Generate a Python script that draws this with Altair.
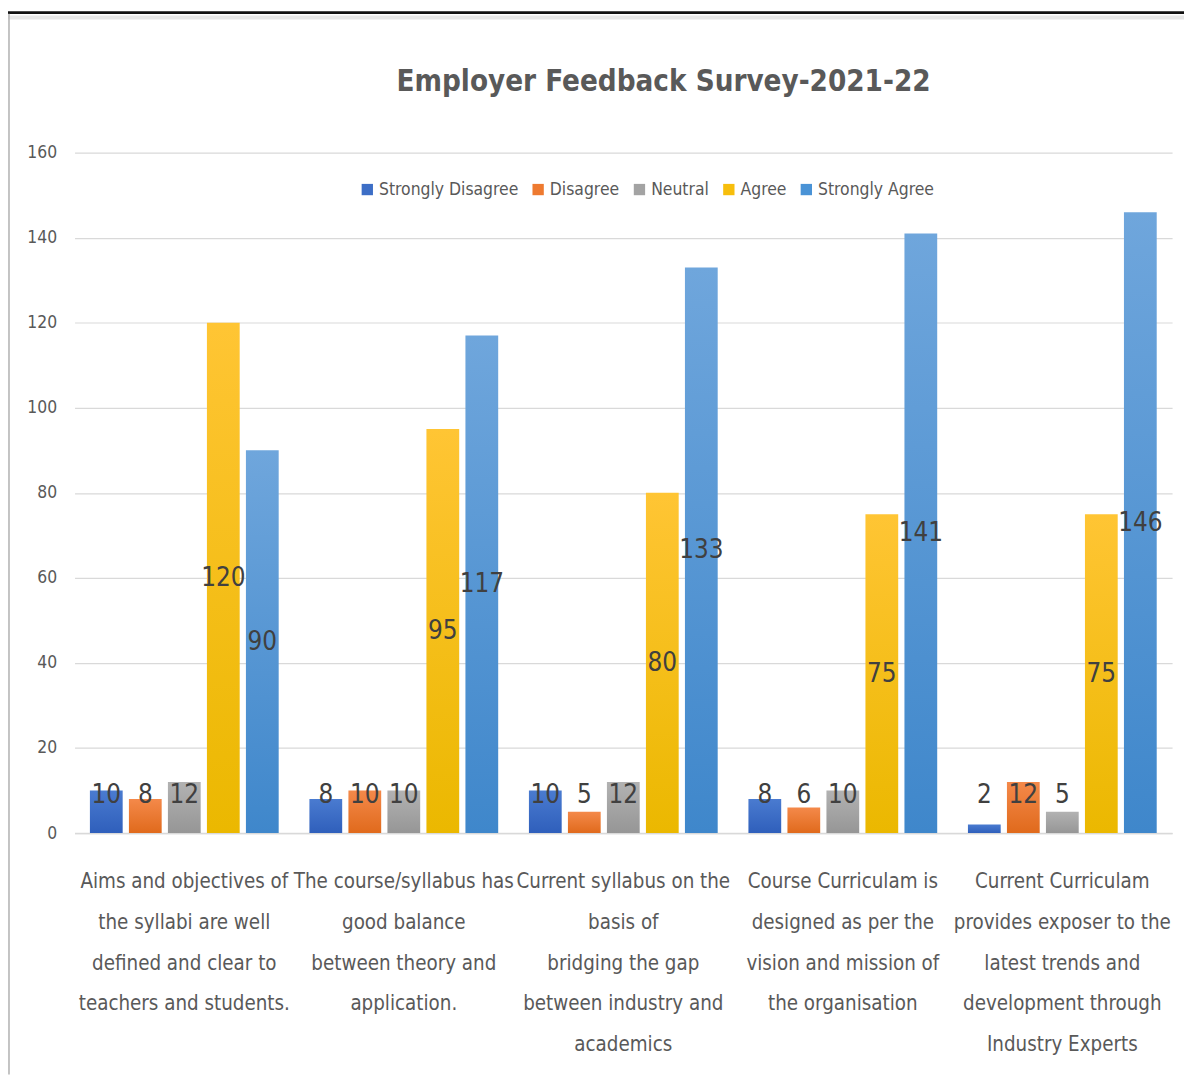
import altair as alt
import pandas as pd

categories = [
    "Aims and objectives of|the syllabi are well|defined and clear to|teachers and students.",
    "The course/syllabus has|good balance|between theory and|application.",
    "Current syllabus on the|basis of|bridging the gap|between industry and|academics",
    "Course Curriculam is|designed as per the|vision and mission of|the organisation",
    "Current Curriculam|provides exposer to the|latest trends and|development through|Industry Experts",
]
series = ["Strongly Disagree", "Disagree", "Neutral", "Agree", "Strongly Agree"]
strongly_disagree = [10, 8, 10, 8, 2]
disagree = [8, 10, 5, 6, 12]
neutral = [12, 10, 12, 10, 5]
agree = [120, 95, 80, 75, 75]
strongly_agree = [90, 117, 133, 141, 146]
colors = ["#3d6ec6", "#ee7a30", "#a3a3a3", "#f7be0c", "#4a93d6"]
top_colors = ["#4a7bd0", "#f4894a", "#b2b2b2", "#ffc534", "#6fa6dc"]
bottom_colors = ["#2f5fbb", "#e06a1c", "#969696", "#ebb800", "#3f87cb"]
y_ticks = [0, 20, 40, 60, 80, 100, 120, 140, 160]
title_text = "Employer Feedback Survey-2021-22"

values = [strongly_disagree, disagree, neutral, agree, strongly_agree]
rows = []
for s, vals in zip(series, values):
    for c, v in zip(categories, vals):
        rows.append({"category": c, "series": s, "value": v})
df = pd.DataFrame(rows)

FONT = "DejaVu Sans Condensed, DejaVu Sans, sans-serif"

x_enc = alt.X(
    "category:N",
    sort=categories,
    title=None,
    scale=alt.Scale(paddingInner=0.14, paddingOuter=0.07),
    axis=alt.Axis(
        labelExpr="split(datum.label, '|')",
        labelAngle=0,
        labelFont=FONT,
        labelFontSize=20.5,
        labelLineHeight=41,
        labelColor="#595959",
        labelPadding=49,
        labelBaseline="middle",
        ticks=False,
        domainColor="#d9d9d9",
        domainWidth=1.5,
        grid=False,
        labelLimit=400,
    ),
)
xoff_enc = alt.XOffset("series:N", sort=series, scale=alt.Scale(paddingInner=0.16, paddingOuter=0))
y_enc = alt.Y(
    "value:Q",
    title=None,
    scale=alt.Scale(domain=[0, 160]),
    axis=alt.Axis(
        values=y_ticks,
        labelFont=FONT,
        labelFontSize=17.5,
        labelColor="#595959",
        labelPadding=18,
        ticks=False,
        domain=False,
        gridColor="#d9d9d9",
        gridWidth=1.2,
    ),
)

base = alt.Chart(df)

# invisible base layer: carries axes and legend
legend_bars = base.mark_bar(opacity=0).encode(
    x=x_enc,
    xOffset=xoff_enc,
    y=y_enc,
    color=alt.Color(
        "series:N",
        sort=series,
        scale=alt.Scale(domain=series, range=colors),
        legend=alt.Legend(
            title=None,
            orient="none",
            direction="horizontal",
            legendX=286,
            legendY=28,
            symbolType="square",
            symbolSize=130,
            symbolStrokeWidth=0,
            symbolOpacity=1,
            labelFont=FONT,
            labelFontSize=17.5,
            labelColor="#595959",
            labelLimit=300,
            columnPadding=11,
            labelOffset=3,
        ),
    ),
)

grad_layers = []
for s, top, bot in zip(series, top_colors, bottom_colors):
    grad_layers.append(
        base.transform_filter(alt.datum.series == s)
        .mark_bar(
            color=alt.Gradient(
                gradient="linear", x1=0, y1=0, x2=0, y2=1,
                stops=[alt.GradientStop(color=top, offset=0), alt.GradientStop(color=bot, offset=1)],
            )
        )
        .encode(
            x=alt.X("category:N", sort=categories),
            xOffset=alt.XOffset("series:N", sort=series),
            y=alt.Y("value:Q"),
        )
    )

labels = base.transform_calculate(
    lab_y="max(datum.value / 2, 9)"
).mark_text(font=FONT, fontSize=26, color="#404040", baseline="middle").encode(
    x=alt.X("category:N", sort=categories),
    xOffset=alt.XOffset("series:N", sort=series),
    y=alt.Y("lab_y:Q"),
    text=alt.Text("value:Q"),
)

deco = pd.DataFrame({"k": [0]})
title_mark = alt.Chart(deco).mark_text(
    font=FONT, fontSize=29.5, fontWeight="bold", color="#595959",
    align="center", baseline="middle",
).encode(x=alt.value(593), y=alt.value(-71), text=alt.value(title_text))
top_line = alt.Chart(deco).mark_rule(color="#111111", strokeWidth=3).encode(
    x=alt.value(-67), x2=alt.value(1117), y=alt.value(-141)
)
top_shadow = alt.Chart(deco).mark_rule(color="#e6e6e6", strokeWidth=4).encode(
    x=alt.value(-67), x2=alt.value(1117), y=alt.value(-136)
)
left_line = alt.Chart(deco).mark_rule(color="#b0b0b0", strokeWidth=1.5).encode(
    x=alt.value(-66), y=alt.value(-140), y2=alt.value(928)
)

chart = alt.layer(legend_bars, *grad_layers, labels, title_mark, top_line, top_shadow, left_line).properties(
    width=1105,
    height=685,
    autosize=alt.AutoSizeParams(type="none"),
    padding={"left": 67, "top": 142, "right": 12, "bottom": 250},
    background="white",
).configure_view(stroke=None)

chart.save("out.html", embed_options={"renderer": "svg", "actions": False})
